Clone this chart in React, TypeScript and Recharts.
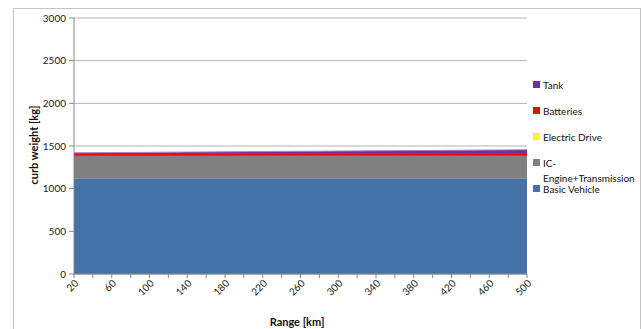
import React from "react";
import { AreaChart, Area, XAxis, YAxis, CartesianGrid } from "recharts";

const ranges = [20, 40, 60, 80, 100, 120, 140, 160, 180, 200, 220, 240, 260, 280, 300, 320, 340, 360, 380, 400, 420, 440, 460, 480, 500];
const basicVehicle = [1120, 1120, 1120, 1120, 1120, 1120, 1120, 1120, 1120, 1120, 1120, 1120, 1120, 1120, 1120, 1120, 1120, 1120, 1120, 1120, 1120, 1120, 1120, 1120, 1120];
const icEngine = [265, 265, 265, 265, 265, 265, 265, 265, 265, 265, 265, 265, 265, 265, 265, 265, 265, 265, 265, 265, 265, 265, 265, 265, 265];
const electricDrive = [0, 0, 0, 0, 0, 0, 0, 0, 0, 0, 0, 0, 0, 0, 0, 0, 0, 0, 0, 0, 0, 0, 0, 0, 0];
const batteries = [25, 25, 25, 25, 25, 25, 25, 25, 25, 25, 25, 25, 25, 25, 25, 25, 25, 25, 25, 25, 25, 25, 25, 25, 25];
const tank = [10, 11.5, 13, 14.5, 16, 17.5, 19, 20.5, 22, 23.5, 25, 26.5, 28, 29.5, 31, 32.5, 34, 35.5, 37, 38.5, 40, 41.5, 43, 44.5, 46];
const yTicks = [0, 500, 1000, 1500, 2000, 2500, 3000];

const series = [
  { key: "basic", name: "Basic Vehicle", color: "#4572A7", stroke: "#8AA2C2", values: basicVehicle },
  { key: "ic", name: "IC-Engine+Transmission", color: "#808080", stroke: "#808080", values: icEngine },
  { key: "ed", name: "Electric Drive", color: "#FFFF00", stroke: "none", values: electricDrive },
  { key: "bat", name: "Batteries", color: "#FF0000", stroke: "#FF0000", values: batteries },
  { key: "tank", name: "Tank", color: "#7030A0", stroke: "#A585C0", values: tank },
];

const data = ranges.map((r, i) => {
  const row: any = { range: r };
  series.forEach((s) => (row[s.key] = s.values[i]));
  return row;
});

const FONT = "Lato, 'Liberation Sans', sans-serif";

const XTick = (props: any) => {
  const { x, y, payload, index } = props;
  if (index % 2 !== 0) return <g />;
  return (
    <g transform={`translate(${x + 5},${y + 4})`}>
      <text transform="rotate(-45)" textAnchor="end" fontSize={10} fill="#222" fontFamily={FONT}>
        {payload.value}
      </text>
    </g>
  );
};

const legendItems = [
  { name: "Tank", color: "#7030A0", lines: ["Tank"], y: 85 },
  { name: "Batteries", color: "#FF0000", lines: ["Batteries"], y: 111 },
  { name: "Electric Drive", color: "#FFFF00", lines: ["Electric Drive"], y: 137 },
  { name: "IC-Engine+Transmission", color: "#808080", lines: ["IC-", "Engine+Transmission"], y: 163 },
  { name: "Basic Vehicle", color: "#4572A7", lines: ["Basic Vehicle"], y: 189 },
];

export default function App() {
  return (
    <div style={{ position: "absolute", left: 0, top: 0, width: 642, height: 329, background: "#fff", overflow: "hidden", fontFamily: FONT }}>
      <div style={{ position: "absolute", left: 13, top: 8, width: 626, height: 340, border: "1px solid #c4c4c4" }} />
      <AreaChart
        width={642}
        height={329}
        data={data}
        margin={{ top: 18, right: 115, left: 0, bottom: 0 }}
        style={{ position: "absolute", left: 0, top: 0 }}
      >
        <CartesianGrid vertical={false} stroke="#b3b3b3" />
        <XAxis
          dataKey="range"
          type="category"
          interval={0}
          height={55}
          tick={<XTick />}
          tickLine={{ stroke: "#868686" }}
          axisLine={{ stroke: "#868686" }}
          tickSize={4}
          padding={{ left: 0, right: 0 }}
        />
        <YAxis
          domain={[0, 3000]}
          ticks={yTicks}
          width={74}
          tickSize={5}
          tickMargin={3}
          tick={{ fontSize: 10, fill: "#222", fontFamily: FONT }}
          tickLine={{ stroke: "#868686" }}
          axisLine={{ stroke: "#868686" }}
          interval={0}
        />
        {series.map((s) => (
          <Area
            key={s.key}
            dataKey={s.key}
            name={s.name}
            stackId="1"
            type="linear"
            fill={s.color}
            fillOpacity={1}
            stroke={s.stroke}
            strokeWidth={1}
            dot={false}
            activeDot={false}
            isAnimationActive={false}
          />
        ))}
      </AreaChart>
      <div
        style={{
          position: "absolute",
          left: 33,
          top: 145,
          transform: "translate(-50%,-50%) rotate(-90deg)",
          fontSize: 11,
          fontWeight: "bold",
          whiteSpace: "nowrap",
          color: "#111",
        }}
      >
        curb weight [kg]
      </div>
      <div
        style={{
          position: "absolute",
          left: 297,
          top: 321,
          transform: "translate(-50%,-50%)",
          fontSize: 11,
          fontWeight: "bold",
          whiteSpace: "nowrap",
          color: "#111",
        }}
      >
        Range [km]
      </div>
      {legendItems.map((it) => (
        <div key={it.name}>
          <div style={{ position: "absolute", left: 533, top: it.y - 4, width: 7, height: 7, background: it.color }} />
          {it.lines.map((ln, j) => (
            <div
              key={j}
              style={{
                position: "absolute",
                left: 543,
                top: it.y - 7 + j * 15,
                fontSize: 10,
                lineHeight: "14px",
                whiteSpace: "nowrap",
                color: "#111",
              }}
            >
              {ln}
            </div>
          ))}
        </div>
      ))}
    </div>
  );
}
